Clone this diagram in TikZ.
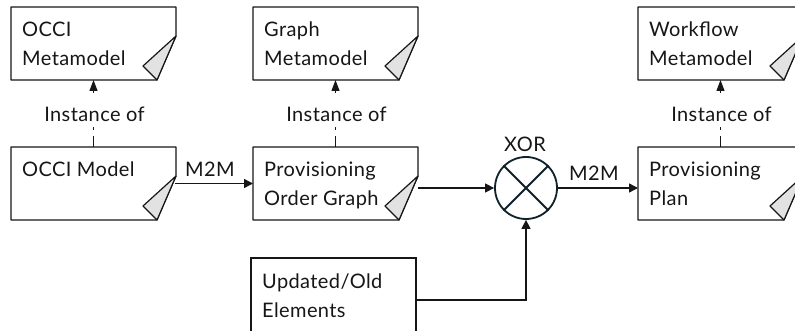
\documentclass[tikz,border=0pt]{standalone}
\usepackage{fontspec}
\setmainfont{Lato}[LetterSpace=2]
\usetikzlibrary{arrows.meta}

\definecolor{foldgray}{HTML}{E2E2E2}
\definecolor{inkline}{HTML}{161616}
\definecolor{xorline}{HTML}{0F2129}

\tikzset{
  doc/.style={rectangle, minimum width=165pt, minimum height=73pt,
    inner sep=0pt, outer sep=0pt, anchor=north west},
  plainbox/.style={rectangle, draw=inkline, line width=1.2pt,
    minimum width=165pt, minimum height=84pt, inner sep=0pt,
    outer sep=0pt, anchor=north west},
  txt/.style={anchor=base west, inner sep=0pt, text=inkline,
    font=\fontsize{20}{24}\selectfont},
  lbl/.style={anchor=base, inner sep=0pt, text=inkline,
    font=\fontsize{20}{24}\selectfont},
  instlbl/.style={anchor=base, inner sep=0pt, fill=white,
    text height=29pt, text depth=5pt, text=inkline,
    font=\fontsize{20}{24}\selectfont},
  flow/.style={draw=inkline, line width=1.4pt,
    -{Triangle[length=9pt,width=9pt]}},
  inst/.style={draw=inkline, line width=1.2pt,
    dash pattern=on 11pt off 6pt,
    -{Triangle[length=11pt,width=8pt]}},
  gate/.style={circle, draw=xorline, line width=1.8pt,
    minimum size=62pt, inner sep=0pt, fill=white}
}

% document shape with a folded lower-right corner
\newcommand{\foldeddoc}[1]{%
  \draw[inkline, line width=1.2pt, line join=round]
    (#1.north west) -- (#1.north east) -- ([yshift=-29pt]#1.north east)
    -- ([xshift=-19pt]#1.south east) -- (#1.south west) -- cycle;
  \filldraw[draw=inkline, fill=foldgray, line width=1.2pt, line join=round]
    ([yshift=-29pt]#1.north east) -- ([xshift=-33pt,yshift=14pt]#1.south east)
    -- ([xshift=-19pt]#1.south east) -- cycle;}

\begin{document}
\begin{tikzpicture}[x=1pt, y=-1pt]
  \useasboundingbox (0,0) rectangle (795,331);
  \clip (0,0) rectangle (795,331);

  % metamodels
  \node[doc] (occimeta) at (11,7) {};
  \node[doc] (graphmeta) at (253,7) {};
  \node[doc] (wfmeta) at (638,7) {};
  % models
  \node[doc] (occimodel) at (11,147) {};
  \node[doc] (pog) at (253,147) {};
  \node[doc] (plan) at (638,147) {};
  % extra input
  \node[plainbox] (upd) at (251,258) {};

  \foreach \n in {occimeta,graphmeta,wfmeta,occimodel,pog,plan}
    {\foldeddoc{\n}}

  % box texts
  \node[txt] (occimeta-a) at ([xshift=11pt,yshift=-30pt]occimeta.north west) {OCCI};
  \node[txt] (occimeta-b) at ([xshift=11pt,yshift=-58.5pt]occimeta.north west) {Metamodel};
  \node[txt] (graphmeta-a) at ([xshift=11pt,yshift=-30pt]graphmeta.north west) {Graph};
  \node[txt] (graphmeta-b) at ([xshift=11pt,yshift=-58.5pt]graphmeta.north west) {Metamodel};
  \node[txt] (wfmeta-a) at ([xshift=11pt,yshift=-30pt]wfmeta.north west) {Workflow};
  \node[txt] (wfmeta-b) at ([xshift=11pt,yshift=-58.5pt]wfmeta.north west) {Metamodel};
  \node[txt] (occimodel-a) at ([xshift=11pt,yshift=-29.5pt]occimodel.north west) {OCCI Model};
  \node[txt] (pog-a) at ([xshift=11pt,yshift=-29.5pt]pog.north west) {Provisioning};
  \node[txt] (pog-b) at ([xshift=11pt,yshift=-58.5pt]pog.north west) {Order Graph};
  \node[txt] (plan-a) at ([xshift=11pt,yshift=-29.5pt]plan.north west) {Provisioning};
  \node[txt] (plan-b) at ([xshift=11pt,yshift=-58.5pt]plan.north west) {Plan};
  \node[txt] (upd-a) at ([xshift=11pt,yshift=-30pt]upd.north west) {Updated/Old};
  \node[txt] (upd-b) at ([xshift=11pt,yshift=-59pt]upd.north west) {Elements};

  % XOR gate
  \node[gate] (xor) at (526,188) {};
  \draw[xorline, line width=1.8pt]
    (xor.north west) -- (xor.south east)
    (xor.north east) -- (xor.south west);
  \node[lbl] (xor-lbl) at (525,152) {XOR};

  % instance-of relations
  \draw[inst] (occimodel.north) -- (occimeta.south);
  \draw[inst] (pog.north) -- (graphmeta.south);
  \draw[inst] (plan.north) -- (wfmeta.south);
  \node[instlbl] (inst1) at ([xshift=1pt,yshift=-42pt]occimeta.south) {Instance of};
  \node[instlbl] (inst2) at ([xshift=1pt,yshift=-42pt]graphmeta.south) {Instance of};
  \node[instlbl] (inst3) at ([xshift=1pt,yshift=-42pt]wfmeta.south) {Instance of};

  % flows
  \draw[flow] ([xshift=-1pt]occimodel.east) -- (pog.west);
  \node[lbl] (m2m1) at (210,177) {M2M};
  \draw[flow] (pog.east |- xor.west) -- (xor.west);
  \draw[flow] (upd.east) -| (xor.south);
  \draw[flow] (xor.east) -- (plan.west |- xor.east);
  \node[lbl] (m2m2) at (594,181) {M2M};
\end{tikzpicture}
\end{document}
